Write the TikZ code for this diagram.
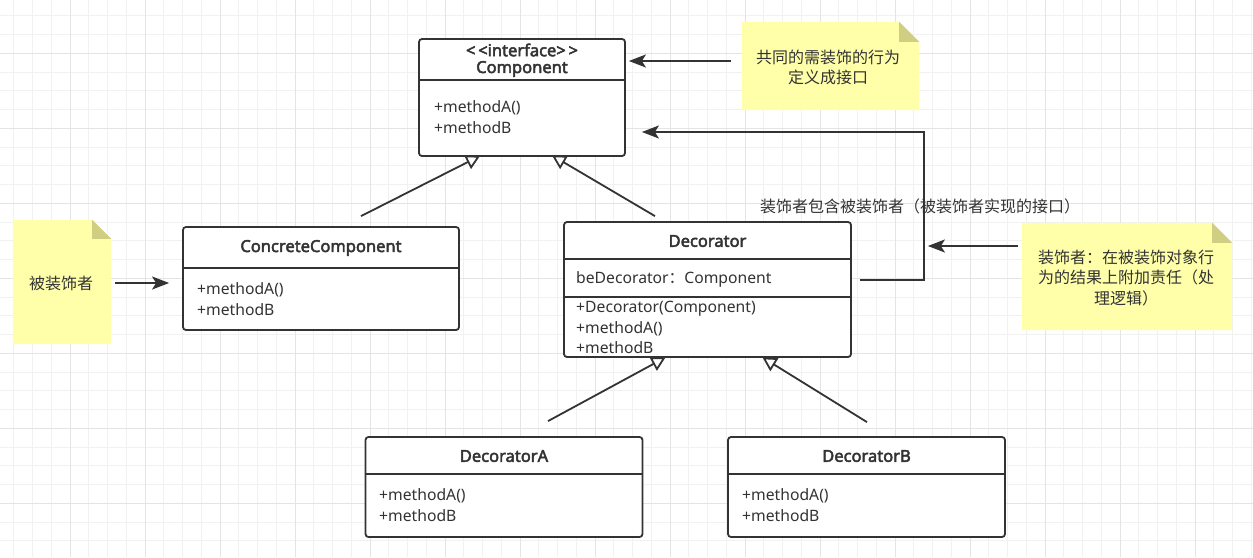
\documentclass[tikz,border=0pt]{standalone}
\usepackage{fontspec}
\setmainfont{Noto Sans}
\newfontfamily\cjk{Noto Sans CJK SC}
\newfontfamily\titlefont{Noto Sans}[FakeBold=2.8]
\usetikzlibrary{arrows.meta,calc}
\definecolor{ink}{HTML}{333333}
\definecolor{notefill}{RGB}{255,255,170}
\definecolor{notefold}{RGB}{208,206,128}
\definecolor{gridminor}{HTML}{F1F1F1}
\definecolor{gridmajor}{HTML}{E4E4E4}
\begin{document}
\begin{tikzpicture}[x=1pt,y=-1pt,
  classbox/.style={draw=ink, line width=1.8pt, rounded corners=3pt, fill=white, inner sep=0pt},
  divider/.style={draw=ink, line width=1.8pt},
  titletext/.style={font=\titlefont\fontsize{16.5}{19}\selectfont, text=ink, inner sep=0pt},
  member/.style={font=\fontsize{15.7}{18}\selectfont, text=ink, inner sep=0pt, anchor=west},
  notetext/.style={font=\cjk\fontsize{16}{20.5}\selectfont, text=ink, align=center, inner sep=0pt},
  notebox/.style={inner sep=0pt},
  notebody/.style={fill=notefill},
  notecorner/.style={fill=notefold},
  assoc/.style={draw=ink, line width=1.8pt, -{Stealth[length=17pt,width=13pt,inset=4pt]}},
  inherit/.style={draw=ink, line width=1.8pt, -{Triangle[open,length=14pt,width=15pt,fill=white]}},
]
% canvas
\fill[white] (0,0) rectangle (1253,557);
\useasboundingbox (0,0) rectangle (1253,557);
% grid
\foreach \k in {-3,...,63} {\draw[gridminor, line width=1pt] ({70+18.75*\k},0) -- ({70+18.75*\k},557);}
\foreach \k in {-2,...,27} {\draw[gridminor, line width=1pt] (0,{53.3+18.75*\k}) -- (1253,{53.3+18.75*\k});}
\foreach \k in {0,...,15} {\draw[gridmajor, line width=1pt] ({70+75*\k},0) -- ({70+75*\k},557);}
\foreach \k in {0,...,6} {\draw[gridmajor, line width=1pt] (0,{53.3+75*\k}) -- (1253,{53.3+75*\k});}

% ---------- Component ----------
\node[classbox, minimum width=206pt, minimum height=117pt] (comp) at (522,97.5) {};
\draw[divider] (comp.west |- 0,80) -- (comp.east |- 0,80);
\node[titletext] (compst) at (522,50) {\textless\,\textless interface\textgreater\,\textgreater};
\node[titletext] (compt) at (522,69) {Component};
\node[member] (compm1) at (434,108) {+methodA()};
\node[member] (compm2) at (434,128) {+methodB};

% ---------- ConcreteComponent ----------
\node[classbox, minimum width=276pt, minimum height=103pt] (cc) at (321,278.5) {};
\draw[divider] (cc.west |- 0,268) -- (cc.east |- 0,268);
\node[titletext] (cct) at (321,248) {ConcreteComponent};
\node[member] (ccm1) at (197,290) {+methodA()};
\node[member] (ccm2) at (197,310) {+methodB};

% ---------- Decorator ----------
\node[classbox, minimum width=287pt, minimum height=135pt] (dec) at (707.5,289.5) {};
\draw[divider] (dec.west |- 0,259) -- (dec.east |- 0,259);
\draw[divider] (dec.west |- 0,297) -- (dec.east |- 0,297);
\node[titletext] (dect) at (707.5,241) {Decorator};
\node[member] (deca) at (576,279) {beDecorator{\cjk ：}Component};
\node[member] (decm0) at (576,309) {+Decorator(Component)};
\node[member] (decm1) at (576,329) {+methodA()};
\node[member] (decm2) at (576,348) {+methodB};

% ---------- DecoratorA ----------
\node[classbox, minimum width=277pt, minimum height=100pt] (da) at (504,487) {};
\draw[divider] (da.west |- 0,474) -- (da.east |- 0,474);
\node[titletext] (dat) at (504,456) {DecoratorA};
\node[member] (dam1) at (379,496) {+methodA()};
\node[member] (dam2) at (379,516) {+methodB};

% ---------- DecoratorB ----------
\node[classbox, minimum width=277pt, minimum height=100pt] (db) at (866.5,487) {};
\draw[divider] (db.west |- 0,474) -- (db.east |- 0,474);
\node[titletext] (dbt) at (866.5,456) {DecoratorB};
\node[member] (dbm1) at (742,496) {+methodA()};
\node[member] (dbm2) at (742,516) {+methodB};

% ---------- Notes ----------
% note 1
\node[notebox, minimum width=177pt, minimum height=88pt] (n1) at (830.5,66) {};
\fill[notebody] (n1.north west) -- ($(n1.north east)+(-20,0)$) -- ($(n1.north east)+(0,20)$) -- (n1.south east) -- (n1.south west) -- cycle;
\fill[notecorner] ($(n1.north east)+(-20,0)$) -- ($(n1.north east)+(0,20)$) -- ($(n1.north east)+(-20,20)$) -- cycle;
\node[notetext] (n1t) at (828,67.5) {共同的需装饰的行为\\定义成接口};
% note 2
\node[notebox, minimum width=98pt, minimum height=124pt] (n2) at (62,282) {};
\fill[notebody] (n2.north west) -- ($(n2.north east)+(-19,0)$) -- ($(n2.north east)+(0,19)$) -- (n2.south east) -- (n2.south west) -- cycle;
\fill[notecorner] ($(n2.north east)+(-19,0)$) -- ($(n2.north east)+(0,19)$) -- ($(n2.north east)+(-19,19)$) -- cycle;
\node[notetext] (n2t) at (61,283) {被装饰者};
% note 3
\node[notebox, minimum width=210pt, minimum height=107pt] (n3) at (1127,276.5) {};
\fill[notebody] (n3.north west) -- ($(n3.north east)+(-20,0)$) -- ($(n3.north east)+(0,20)$) -- (n3.south east) -- (n3.south west) -- cycle;
\fill[notecorner] ($(n3.north east)+(-20,0)$) -- ($(n3.north east)+(0,20)$) -- ($(n3.north east)+(-20,20)$) -- cycle;
\node[notetext] (n3t) at (1126,278) {装饰者：在被装饰对象行\\为的结果上附加责任（处\\理逻辑）};

% ---------- connectors ----------
\draw[inherit] ($(cc.north)+(40,-10)$) -- ($(comp.south)+(-42,-1)$);
\draw[inherit] ($(dec.north)+(-52.5,-5)$) -- ($(comp.south)+(30,-1.5)$);
\draw[inherit] ($(da.north)+(44,-15)$) -- ($(dec.south)+(-42,-0.5)$);
\draw[inherit] ($(db.north)+(0.5,-14)$) -- ($(dec.south)+(55,-0.5)$);

\draw[assoc] ($(n1.west)+(-11,-5)$) -- ($(comp.east)+(3,-36.5)$);
\draw[assoc] ($(n2.east)+(4,1)$) -- ($(cc.west)+(-13,4.5)$);
\draw[assoc] ($(dec.east)+(8,-9.5)$) -- ++(64,0) |- ($(comp.east)+(16,34.5)$);
\draw[assoc] ($(n3.west)+(-4,-30.5)$) -- ($(dec.east)+(76,-43.5)$);
\node[notetext] (lbl) at (920,206) {装饰者包含被装饰者（被装饰者实现的接口）};
\end{tikzpicture}
\end{document}
